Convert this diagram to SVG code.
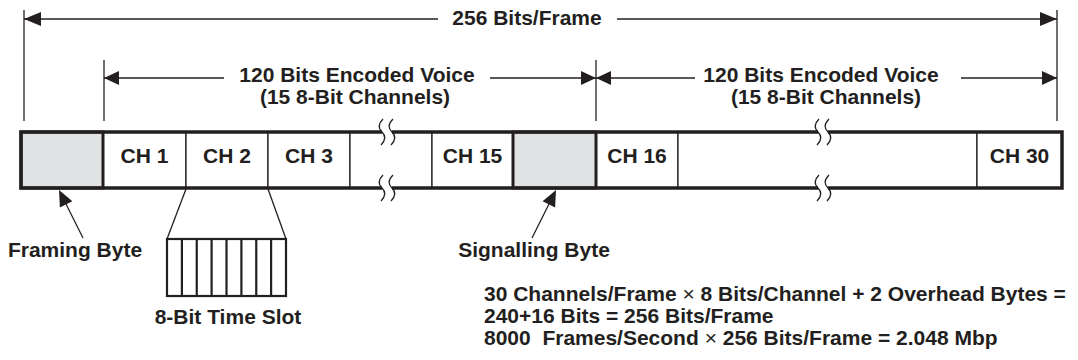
<svg xmlns="http://www.w3.org/2000/svg" width="1078" height="360" viewBox="0 0 1078 360">
<style>
text{font-family:"Liberation Sans",Arial,Helvetica,sans-serif;font-weight:bold;font-size:21px;fill:#231f20}
.mid{text-anchor:middle}
.dim{stroke:#231f20;stroke-width:1.3;fill:none}
.ah{fill:#231f20;stroke:none}
.cell{fill:#ffffff;stroke:#231f20;stroke-width:1.3}
.grey{fill:#e1e2e4;stroke:#231f20;stroke-width:3}
.outer{fill:none;stroke:#231f20;stroke-width:3.5}
.thin{stroke:#231f20;stroke-width:1.3;fill:none}
.slot{stroke:#231f20;stroke-width:2.2;fill:#ffffff}
.x{font-weight:normal}
</style>
<defs>
<g id="brk">
<rect x="-5" y="-3" width="10" height="6" fill="#ffffff"/>
<path class="thin" d="M-4,-13 C-9,-8 -9,-4 -5,0 C-1,4 -1,8 -6,13"/>
<path class="thin" d="M6,-13 C1,-8 1,-4 5,0 C9,4 9,8 4,13"/>
</g>
</defs>

<g id="connectors">
<!-- 256 Bits/Frame dimension -->
<line class="dim" x1="24" y1="10" x2="24" y2="121"/>
<line class="dim" x1="1057" y1="10" x2="1057" y2="121"/>
<line class="dim" x1="24" y1="19" x2="438" y2="19"/>
<line class="dim" x1="617" y1="19" x2="1057" y2="19"/>
<polygon class="ah" points="24,19 41,12 41,26"/>
<polygon class="ah" points="1057,19 1040,12 1040,26"/>
<!-- 120 bits dimensions -->
<line class="dim" x1="104" y1="60" x2="104" y2="121"/>
<line class="dim" x1="596" y1="60" x2="596" y2="121"/>
<line class="dim" x1="104" y1="78" x2="224" y2="78"/>
<line class="dim" x1="490" y1="78" x2="596" y2="78"/>
<line class="dim" x1="596" y1="78" x2="695" y2="78"/>
<line class="dim" x1="961" y1="78" x2="1057" y2="78"/>
<polygon class="ah" points="104,78 119,71 119,85"/>
<polygon class="ah" points="596,78 581,71 581,85"/>
<polygon class="ah" points="596,78 611,71 611,85"/>
<polygon class="ah" points="1057,78 1042,71 1042,85"/>
<!-- framing byte pointer -->
<line class="dim" x1="83" y1="238" x2="66" y2="204"/>
<polygon class="ah" points="59,190 72.4,201.2 59.9,207.4"/>
<!-- signalling byte pointer -->
<line class="dim" x1="532" y1="238" x2="549" y2="204"/>
<polygon class="ah" points="556,190 555.1,207.4 542.6,201.2"/>
<!-- time slot expansion -->
<line class="dim" x1="186" y1="189" x2="167" y2="239"/>
<line class="dim" x1="268" y1="189" x2="286" y2="239"/>
</g>

<g id="labels-top">
<text class="mid" x="527" y="25">256 Bits/Frame</text>
<text class="mid" x="357" y="82">120 Bits Encoded Voice</text>
<text class="mid" x="355" y="104">(15 8-Bit Channels)</text>
<text class="mid" x="821" y="82">120 Bits Encoded Voice</text>
<text class="mid" x="826" y="104">(15 8-Bit Channels)</text>
</g>

<g id="frame">
<g id="ch1"><rect class="cell" x="103" y="132" width="83" height="56"/><text class="mid" x="144.5" y="163">CH 1</text></g>
<g id="ch2"><rect class="cell" x="186" y="132" width="82" height="56"/><text class="mid" x="227" y="163">CH 2</text></g>
<g id="ch3"><rect class="cell" x="268" y="132" width="82" height="56"/><text class="mid" x="309" y="163">CH 3</text></g>
<g id="ch-gap1"><rect class="cell" x="350" y="132" width="82" height="56"/></g>
<g id="ch15"><rect class="cell" x="432" y="132" width="81" height="56"/><text class="mid" x="472.5" y="163">CH 15</text></g>
<g id="ch16"><rect class="cell" x="596" y="132" width="82" height="56"/><text class="mid" x="637" y="163">CH 16</text></g>
<g id="ch-gap2"><rect class="cell" x="678" y="132" width="299" height="56"/></g>
<g id="ch30"><rect class="cell" x="977" y="132" width="85" height="56"/><text class="mid" x="1019.5" y="163">CH 30</text></g>
<g id="framing-byte-cell"><rect class="grey" x="21" y="132" width="82" height="56"/></g>
<g id="signalling-byte-cell"><rect class="grey" x="513" y="132" width="83" height="56"/></g>
<rect class="outer" x="21" y="132" width="1041" height="56"/>
<use href="#brk" x="387" y="132"/>
<use href="#brk" x="387" y="188"/>
<use href="#brk" x="823" y="132"/>
<use href="#brk" x="823" y="188"/>
</g>

<g id="time-slot">
<rect class="slot" x="167" y="239" width="119" height="57"/>
<line class="slot" x1="181.9" y1="239" x2="181.9" y2="296"/>
<line class="slot" x1="196.75" y1="239" x2="196.75" y2="296"/>
<line class="slot" x1="211.6" y1="239" x2="211.6" y2="296"/>
<line class="slot" x1="226.5" y1="239" x2="226.5" y2="296"/>
<line class="slot" x1="241.4" y1="239" x2="241.4" y2="296"/>
<line class="slot" x1="256.25" y1="239" x2="256.25" y2="296"/>
<line class="slot" x1="271.1" y1="239" x2="271.1" y2="296"/>
<text class="mid" x="228" y="324">8-Bit Time Slot</text>
</g>

<g id="framing-byte-label"><text class="mid" x="75" y="257">Framing Byte</text></g>
<g id="signalling-byte-label"><text class="mid" x="534" y="257">Signalling Byte</text></g>

<g id="equations">
<text x="484" y="301">30 Channels/Frame <tspan class="x">×</tspan> 8 Bits/Channel + 2 Overhead Bytes =</text>
<text x="484" y="323">240+16 Bits = 256 Bits/Frame</text>
<text x="484" y="345">8000 &#160;Frames/Second <tspan class="x">×</tspan> 256 Bits/Frame = 2.048 Mbp</text>
</g>
</svg>
